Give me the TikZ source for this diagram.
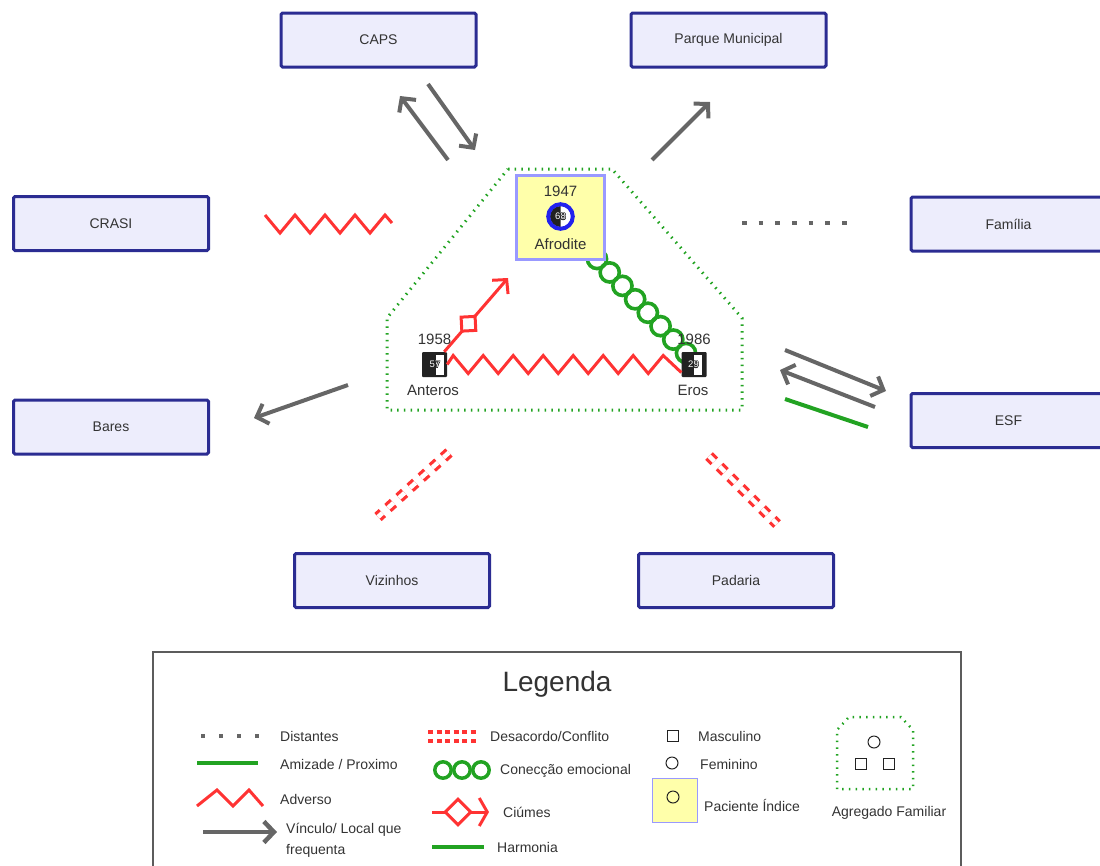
\documentclass[tikz,border=0pt]{standalone}
\usepackage{fontspec}
\setmainfont{Liberation Sans}
\usetikzlibrary{arrows.meta,calc}
\definecolor{boxfill}{HTML}{EDEDFC}
\definecolor{boxline}{HTML}{2B2C92}
\definecolor{gline}{HTML}{666666}
\definecolor{rline}{HTML}{FF3333}
\definecolor{grn}{HTML}{22A322}
\definecolor{ylw}{HTML}{FFFFAA}
\definecolor{lblue}{HTML}{9999FF}
\definecolor{ringblue}{HTML}{2222EE}
\definecolor{txt}{HTML}{333333}
\definecolor{dark}{HTML}{222222}
\newcommand\agelbl[2]{%
  \foreach \dx/\dy in {-0.6/0,0.6/0,0/-0.6,0/0.6,-0.45/-0.45,0.45/0.45,-0.45/0.45,0.45/-0.45}
    \node[age, text=dark] at ($(#1)+(\dx,\dy)$) {#2};
  \node[age, text=white] at (#1) {#2};}
\begin{document}
\begin{tikzpicture}[x=1pt,y=-1pt,
  place/.style={draw=boxline, fill=boxfill, line width=3pt, rounded corners=1.5pt,
    minimum width=195pt, minimum height=54pt, inner sep=0pt,
    font=\fontsize{14}{16}\selectfont, text=txt},
  lbl/.style={inner sep=0pt, text=txt, font=\fontsize{14}{16}\selectfont},
  yr/.style={inner sep=0pt, text=txt, font=\fontsize{15}{17}\selectfont},
  age/.style={inner sep=0pt, font=\fontsize{9.5}{9.5}\selectfont},
  person/.style={fill=dark, minimum size=25pt, inner sep=0pt, rounded corners=1pt},
  vinc/.style={draw=gline, line width=4pt, -{Straight Barb[length=10pt,width=21pt]}},
  adv/.style={draw=rline, line width=3pt},
  conf/.style={draw=rline, line width=3.2pt, double=white, double distance=4.5pt, dash pattern=on 7.5pt off 7.5pt},
  emo/.style={draw=grn, line width=3.6pt},
  amiz/.style={draw=grn, line width=4pt},
  dist/.style={draw=gline, line width=4.5pt, dash pattern=on 4.5pt off 12.17pt},
  agreg/.style={draw=grn, line width=3pt, dash pattern=on 1.5pt off 5.2pt},
  ciu/.style={draw=rline, line width=3pt},
  diam/.style={draw=rline, fill=white, line width=3pt, minimum size=14pt, inner sep=0pt}
]
\useasboundingbox (0,0) rectangle (1100,865);

% ---------- places ----------
\node[place] (CAPS) at (378.5,40) {CAPS};
\node[place] (Parque) at (728.5,40) {Parque Municipal};
\node[place] (CRASI) at (111,223.5) {CRASI};
\node[place] (Familia) at (1008.5,224) {Família};
\node[place] (Bares) at (111,427) {Bares};
\node[place] (ESF) at (1008.5,420.5) {ESF};
\node[place] (Viz) at (392,580.5) {Vizinhos};
\node[place] (Pad) at (736,580.5) {Padaria};

% ---------- family group ----------
\draw[agreg] (508,169) -- (612,169) -- (742,318) -- (742,410) -- (387,410) -- (387,318) -- cycle;

% emotional connection chain Afrodite - Eros
\coordinate (ch1) at (597,259);
\coordinate (ch2) at (686,353);
\foreach \i in {0,...,7} \draw[emo] ($(ch1)!\i/7!(ch2)$) circle (9.6);

% persons
\node[person] (Anteros) at (434.5,364.5) {};
\node[person] (Eros) at (694,364.5) {};

% adverse zigzag Anteros - Eros
\draw[adv] (Anteros.east) -- ++(6,-9) \foreach \k in {1,...,7} { -- ++(15,18) -- ++(15,-18) } -- ($(Eros.west)+(0,8)$);

% jealousy Anteros -> Afrodite
\coordinate (ci1) at ($(Anteros.north east)+(-3,0)$);
\coordinate (ci2) at (508,278);
\draw[ciu, -{Straight Barb[length=10pt,width=21pt]}] (ci1) -- (ci2) node[pos=0.38, diam, rotate=3] (ciD) {};

\fill[white] ($(Anteros.center)+(1,-10)$) rectangle ($(Anteros.center)+(9,10)$);
\fill[white] ($(Eros.center)+(0,-10)$) rectangle ($(Eros.center)+(8,10)$);
\coordinate (antC) at ($(Anteros.center)+(0.5,0)$);
\coordinate (erC) at ($(Eros.center)+(-0.5,0)$);
\agelbl{antC}{57}
\agelbl{erC}{29}
\node[yr] at (434.5,339) {1958};
\node[yr] at (694,339) {1986};
\node[yr] at (433,390.5) {Anteros};
\node[yr] at (693,390.5) {Eros};

% Afrodite (index patient)
\node[draw=lblue, fill=ylw, line width=3pt, minimum width=88pt, minimum height=84pt, inner sep=0pt] (Afrodite) at (560.5,217.5) {};
\node[yr] at (560.5,191) {1947};
\node[yr] at (560.5,244.5) {Afrodite};
\coordinate (af) at (560.5,216.5);
\fill[white] (af) circle (10.5);
\fill[dark] (af) ++(0,10.5) arc[start angle=90, end angle=270, radius=10.5] -- cycle;
\draw[ringblue, line width=4pt] (af) circle (12.3);
\agelbl{af}{68}

% ---------- external links ----------
\coordinate (capsA1) at (448,160); \coordinate (capsA2) at (400,96);
\coordinate (capsB1) at (428,84);  \coordinate (capsB2) at (475,150);
\draw[vinc] (capsA1) -- (capsA2);
\draw[vinc] (capsB1) -- (capsB2);

\coordinate (pq1) at (652,160); \coordinate (pq2) at (710,102);
\draw[vinc] (pq1) -- (pq2);

\coordinate (cr1) at (265,215);
\draw[adv] (cr1) -- ++(15,18) -- ++(15,-18) -- ++(15,18) -- ++(15,-18) -- ++(15,18) -- ++(15,-18) -- ++(15,18) -- ++(15,-18) -- ++(7,8) coordinate (cr2);

\coordinate (fm1) at (742,223); \coordinate (fm2) at (847,223);
\draw[dist] (fm1) -- (fm2);

\coordinate (es1) at (785,350); \coordinate (es2) at (886,391);
\coordinate (es3) at (875,407); \coordinate (es4) at (780,370);
\coordinate (es5) at (785,399); \coordinate (es6) at (868,427);
\draw[vinc] (es1) -- (es2);
\draw[vinc] (es3) -- (es4);
\draw[amiz] (es5) -- (es6);

\coordinate (br1) at (348,385); \coordinate (br2) at (254,418);
\draw[vinc] (br1) -- (br2);

\coordinate (vz1) at (449,452.5); \coordinate (vz2) at (378,517);
\draw[conf] (vz1) -- (vz2);
\coordinate (pd1) at (709,456); \coordinate (pd2) at (777,524);
\draw[conf] (pd1) -- (pd2);

% ---------- legend ----------
\draw[line width=1.2pt, draw=txt!80] (153,652) rectangle (961,885);
\node[inner sep=0pt, text=txt, font=\fontsize{28}{30}\selectfont] (leg) at (557,684) {Legenda};

% column 1
\coordinate (l1a) at (201,736); \coordinate (l1b) at (259,736);
\draw[draw=gline, line width=4pt, dash pattern=on 4pt off 14pt] (l1a) -- (l1b);
\node[lbl, anchor=west] at (280,736) {Distantes};

\coordinate (l2a) at (197,763); \coordinate (l2b) at (258,763);
\draw[amiz] (l2a) -- (l2b);
\node[lbl, anchor=west] at (280,764) {Amizade / Proximo};

\coordinate (l3a) at (197,806);
\draw[adv] (l3a) -- (217,790) -- (233,806) -- (249,790) -- (263,806) coordinate (l3b);
\node[lbl, anchor=west] at (280,799) {Adverso};

\coordinate (l4a) at (203,832); \coordinate (l4b) at (277,832);
\draw[draw=gline, line width=4.5pt, -{Straight Barb[length=10pt,width=21pt]}] (l4a) -- (l4b);
\node[lbl, anchor=west, align=left, font=\fontsize{14}{21}\selectfont] at (286,840) {Vínculo/ Local que\\frequenta};

% column 2
\coordinate (l5a) at (428,736.5); \coordinate (l5b) at (478,736.5);
\draw[draw=rline, line width=3.5pt, double=white, double distance=5.5pt, dash pattern=on 5pt off 3.5pt] (l5a) -- (l5b);
\node[lbl, anchor=west] at (490,736) {Desacordo/Conflito};

\foreach \x in {443,462,481} \draw[draw=grn, line width=3.5pt] (\x,770) circle (8.2);
\node[lbl, anchor=west] at (500,771) {Conecção emocional};

\coordinate (l6a) at (432,812); \coordinate (l6b) at (489,812);
\draw[ciu, -{Straight Barb[length=8pt,width=28pt]}] (l6a) -- (l6b);
\node[diam, rotate=45, minimum size=18pt] at (458,812) {};
\node[lbl, anchor=west] at (503,812) {Ciúmes};

\coordinate (l7a) at (432,847); \coordinate (l7b) at (484,847);
\draw[amiz, line width=4.5pt] (l7a) -- (l7b);
\node[lbl, anchor=west] at (497,847) {Harmonia};

% column 3
\draw[line width=1pt, draw=dark] (667.5,730.5) rectangle (678.5,741.5);
\node[lbl, anchor=west] at (698,736) {Masculino};
\draw[line width=1pt, draw=dark] (672,763) circle (6);
\node[lbl, anchor=west] at (700,764) {Feminino};
\draw[line width=1pt, draw=lblue, fill=ylw] (652,778) rectangle (697,822);
\draw[line width=1pt, draw=dark] (673,797) circle (6);
\node[lbl, anchor=west] at (704,805) {Paciente Índice};

% column 4
\draw[agreg, line width=2.5pt] (837,789) -- (837,730) -- (849,717) -- (901,717) -- (913,730) -- (913,789) -- cycle;
\draw[line width=1pt, draw=dark] (874,742) circle (6);
\draw[line width=1pt, draw=dark] (855.5,758.5) rectangle (866.5,769.5);
\draw[line width=1pt, draw=dark] (883.5,758.5) rectangle (894.5,769.5);
\node[lbl] at (889,813) {Agregado Familiar};
\end{tikzpicture}
\end{document}
